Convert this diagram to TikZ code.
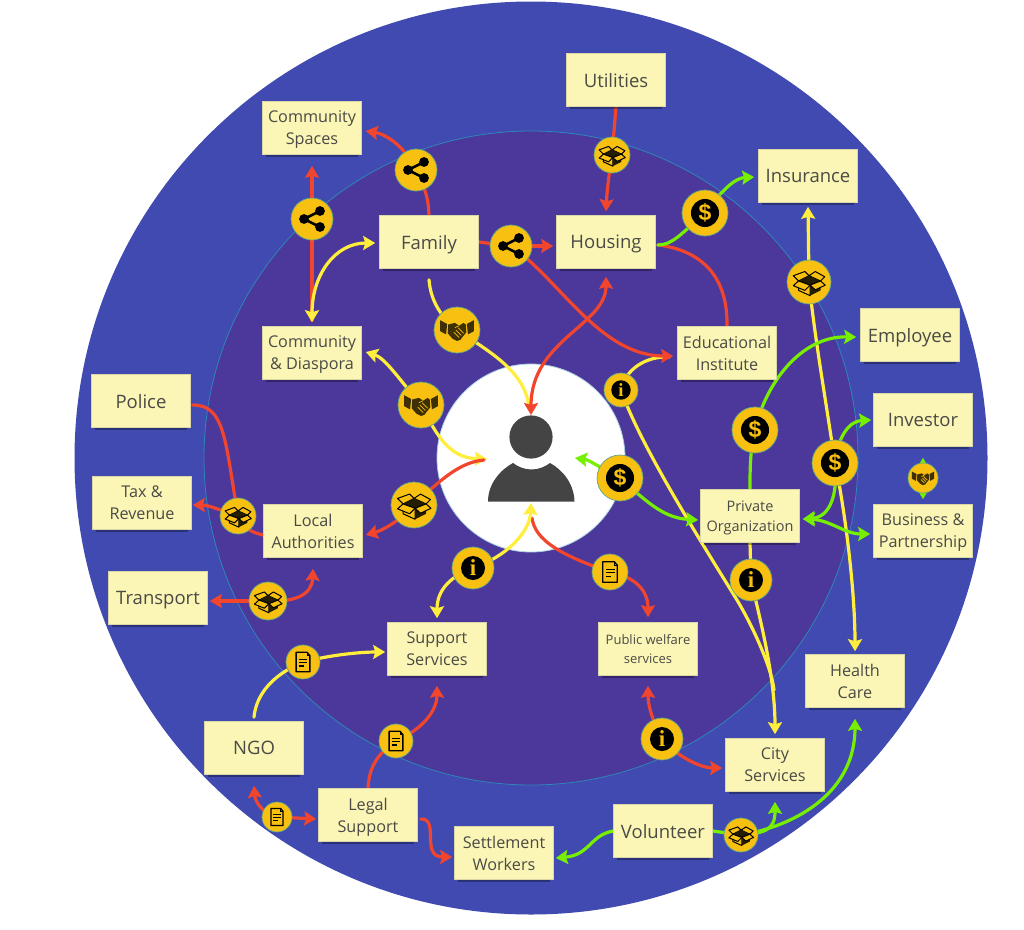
\documentclass[tikz,border=0pt]{standalone}
\usepackage{fontspec}
\setmainfont{Open Sans}
\newfontfamily\dollarfont{Liberation Sans}
\newfontfamily\infofont{Liberation Serif}
\usetikzlibrary{arrows.meta,calc,shadows}
\pgfdeclarelayer{under}
\pgfsetlayers{under,main}
\definecolor{ringout}{HTML}{404AB0}
\definecolor{ringin}{HTML}{4B389A}
\definecolor{ringedge}{HTML}{2F86B8}
\definecolor{notefill}{HTML}{FBF6B6}
\definecolor{noteedge}{HTML}{D9D6A8}
\definecolor{notetext}{HTML}{4A4A46}
\definecolor{gold}{HTML}{F8C010}
\definecolor{goldedge}{HTML}{5FA58A}
\definecolor{lred}{HTML}{F2452D}
\definecolor{lyel}{HTML}{FFEE3B}
\definecolor{lgrn}{HTML}{76F000}
\definecolor{userc}{HTML}{444444}
\tikzset{
  notebox/.style={rectangle,draw=noteedge,line width=.6pt,fill=notefill,text=notetext,
    minimum width=99pt,minimum height=53pt,inner sep=0pt,align=center,text depth=0pt,
    general shadow={shadow yshift=-4.5pt,shadow scale=.92,fill=black,opacity=.33}},
  big/.style={font=\fontsize{18.5}{23}\selectfont},
  mid/.style={font=\fontsize{16.2}{22}\selectfont},
  pri/.style={font=\fontsize{14.5}{20}\selectfont},
  sml/.style={font=\fontsize{13}{19}\selectfont},
  badgedisc/.style={circle,fill=gold,draw=goldedge,line width=.7pt,inner sep=0pt},
  conn/.style={line width=3.2pt,line cap=round},
  tip/.style={-{Stealth[length=12pt,width=14pt,inset=2pt]}},
  twotip/.style={{Stealth[length=12pt,width=14pt,inset=2pt]}-{Stealth[length=12pt,width=14pt,inset=2pt]}},
  rl/.style={conn,draw=lred},
  yl/.style={conn,draw=lyel},
  gl/.style={conn,draw=lgrn},
  pics/shareicon/.style={code={
    \draw[line width=2.6pt,black] (8,-8) -- (-8,0) -- (8,8);
    \fill[black] (8,-8) circle (4.9) (8,8) circle (4.9) (-8,0) circle (4.9);
  }},
  pics/dollaricon/.style={code={
    \fill[black] (0,0) circle (12.8);
    \node[transform shape,text=gold,inner sep=0pt,font=\dollarfont\bfseries\fontsize{21}{21}\selectfont] (d) at (0,0) {\$};
  }},
  pics/infoicon/.style={code={
    \fill[black] (0,0) circle (12);
    \node[transform shape,text=gold,inner sep=0pt,font=\infofont\bfseries\fontsize{23}{23}\selectfont] (n) at (0,0) {i};
  }},
  pics/docicon/.style={code={
    \draw[black,line width=1.3pt,fill=gold,line join=round] (-8.5,-12) -- (5,-12) -- (8.5,-8) -- (8.5,12) -- (-8.5,12) -- cycle;
    \draw[black,line width=.9pt] (5,-12) -- (5,-8) -- (8.5,-8);
    \draw[black,line width=1.2pt] (-5,-3) -- (5.5,-3) (-5,1) -- (5.5,1) (-5,5) -- (1.5,5);
  }},
  pics/boxicon/.style={code={
    \begin{scope}[black,line width=1pt,line join=round]
    \draw[fill=gold] (-10,-1) -- (-15,-6) -- (-4,-10) -- (0,-6) -- cycle;
    \draw[fill=gold] (11,-1) -- (15,-5) -- (6,-10) -- (0,-6) -- cycle;
    \fill[black!85!gold] (-10,-1) -- (0,-6) -- (11,-1) -- (1,3) -- cycle;
    \draw[fill=gold] (-10,-1) -- (1,3) -- (1,13) -- (-10,8) -- cycle;
    \fill[black!85!gold] (1,3) -- (11,-1) -- (11,8) -- (1,13) -- cycle;
    \draw[fill=gold] (-10,-1) -- (-15,3.5) -- (-4,8) -- (1,3) -- cycle;
    \draw[fill=gold] (11,-1) -- (15.5,3) -- (6,7.5) -- (1,3) -- cycle;
    \end{scope}
  }},
  pics/handicon/.style={code={
    \fill[black!75!gold] (-15.5,-9) -- (-9,-5.5) -- (-10,4) -- (-15.5,1) -- cycle;
    \fill[black!75!gold] (15.5,-9) -- (9,-5.5) -- (10,4) -- (15.5,1) -- cycle;
    \fill[black!75!gold] (-8,-5) -- (-2,-6.5) -- (2,-4) -- (6,-6.5) -- (8,-5) -- (8.5,2) -- (3,9) -- (0,10) -- (-4,8) -- (-8.5,3) -- cycle;
    \draw[gold,line width=.7pt] (-2,-2) -- (2,-4) (-3,2) -- (2,7) (-1,0) -- (4,5) (1,-2) -- (6,3);
  }}
}
\newcommand{\mkbadge}[5]{%
  \node[badgedisc,minimum size=#4*2pt] (#1) at (#2,#3) {};
  \pic (#1icon) [scale=#4/21] at (#1) {#5};}
\begin{document}
\begin{tikzpicture}[x=1pt,y=-1pt]
\useasboundingbox (0,0) rectangle (1024,929);

% notes
\node[notebox,big] (utilities) at (616,80) {Utilities};
\node[notebox,mid] (cspaces) at (312,128) {Community\\Spaces};
\node[notebox,big] (insurance) at (808,176) {Insurance};
\node[notebox,big] (family) at (429,242) {Family};
\node[notebox,big] (housing) at (606,242) {Housing};
\node[notebox,big] (employee) at (910,335) {Employee};
\node[notebox,mid] (diaspora) at (312,353) {Community\\\& Diaspora};
\node[notebox,mid] (edu) at (727,353) {Educational\\Institute};
\node[notebox,big] (police) at (141,401) {Police};
\node[notebox,big] (investor) at (923,420) {Investor};
\node[notebox,mid] (tax) at (142,503) {Tax \&\\Revenue};
\node[notebox,mid] (local) at (313,531) {Local\\Authorities};
\node[notebox,pri] (private) at (750,516) {Private\\Organization};
\node[notebox,mid] (business) at (923,531) {Business \&\\Partnership};
\node[notebox,big] (transport) at (158,598) {Transport};
\node[notebox,mid] (support) at (437,649) {Support\\Services};
\node[notebox,sml] (welfare) at (648,649) {Public welfare\\services};
\node[notebox,mid] (health) at (855,681) {Health\\Care};
\node[notebox,big] (ngo) at (254,748) {NGO};
\node[notebox,mid] (city) at (775,765) {City\\Services};
\node[notebox,mid] (legal) at (368,815) {Legal\\Support};
\node[notebox,mid] (settle) at (504,853) {Settlement\\Workers};
\node[notebox,big] (volunteer) at (663,831) {Volunteer};

% user (target of the connectors)
\coordinate (user) at (531,458);

% badges
\mkbadge{shA}{416}{170}{21}{shareicon}
\mkbadge{shB}{312}{219}{21}{shareicon}
\mkbadge{shC}{511}{246}{21}{shareicon}
\mkbadge{boxA}{612}{155}{18}{boxicon}
\mkbadge{boxB}{809}{282}{22}{boxicon}
\mkbadge{boxC}{238}{516}{18}{boxicon}
\mkbadge{boxD}{414}{505}{23}{boxicon}
\mkbadge{boxE}{268}{601}{19}{boxicon}
\mkbadge{boxF}{741}{835}{17}{boxicon}
\mkbadge{dolA}{705}{213}{23}{dollaricon}
\mkbadge{dolB}{755}{430}{23}{dollaricon}
\mkbadge{dolC}{835}{463}{23}{dollaricon}
\mkbadge{dolD}{620}{478}{23}{dollaricon}
\mkbadge{infA}{621}{390}{17}{infoicon}
\mkbadge{infB}{473}{568}{21}{infoicon}
\mkbadge{infC}{751}{580}{21}{infoicon}
\mkbadge{infD}{662}{739}{21}{infoicon}
\mkbadge{hanA}{457}{330}{23}{handicon}
\mkbadge{hanB}{421}{405}{23}{handicon}
\mkbadge{hanC}{923}{478}{15}{handicon}
\mkbadge{docA}{303}{662}{17}{docicon}
\mkbadge{docB}{396}{741}{17}{docicon}
\mkbadge{docC}{277}{817}{15}{docicon}
\mkbadge{docD}{610}{572}{18}{docicon}

\begin{pgfonlayer}{under}
\fill[white] (0,0) rectangle (1024,929);
% rings
\fill[ringout] (user) circle (456.5);
\fill[ringin,draw=ringedge,line width=.8pt] (user) circle (327);
\fill[white,draw=ringedge!40!white,line width=.8pt] (user) circle (94);
% person
\fill[userc] (531,437) circle (21.6);
\fill[userc] (488,501.5) .. controls (488,484) and (500,470) .. (513,463)
  .. controls (518,467) and (525,469.5) .. (531.5,469.5)
  .. controls (538,469.5) and (545,467) .. (550,463)
  .. controls (563,470) and (574,484) .. (574.5,501.5) -- cycle;

% red under yellow
\draw[rl,tip] ($(diaspora.north)+(0,-6)$) -- (shB.center) -- ($(cspaces.south)+(0,11)$);

% yellow
\draw[yl,twotip] ($(diaspora.north)+(0,-4)$) .. controls (312,275) and (335,243) .. ($(family.west)+(-4,1)$);
\draw[yl] ($(family.south)+(0,11)$) .. controls (431,305) and (445,320) .. (hanA.center);
\draw[yl] (hanA.center) .. controls (490,352) and (526,372) .. ($(user)+(-2,-50)$);
\draw[yl,tip] (hanB.center) .. controls (400,380) and (385,358) .. ($(diaspora.east)+(4,-1)$);
\draw[yl,tip] (hanB.center) .. controls (438,438) and (450,458) .. ($(user)+(-44,1)$);
\draw[yl] (infA.center) .. controls (625,370) and (645,356) .. ($(edu.west)+(-8,4)$);
\draw[yl] (infA.center) .. controls (640,445) and (700,540) .. (737,600) .. controls (755,630) and (772,670) .. (774,690);
\draw[yl] (private.south) -- (infC.center);
\draw[yl,tip] (infC.center) .. controls (755,600) and (775,670) .. ($(city.north)+(0,-4)$);
\draw[yl,twotip] ($(insurance.south)+(0,4)$) -- (boxB.center) .. controls (815,340) and (825,395) .. (dolC.center) .. controls (845,510) and (855,590) .. ($(health.north)+(0,-3)$);
\draw[yl,tip] (infB.center) .. controls (440,580) and (437,600) .. ($(support.north)+(0,-4)$);
\draw[yl] ($(ngo.north)+(0,-4)$) .. controls (256,695) and (272,675) .. (docA.center);
\draw[yl,tip] (docA.center) .. controls (330,655) and (360,652) .. ($(support.west)+(-2,3)$);

% red
\draw[rl] (family.north) .. controls (428,200) and (428,195) .. (shA.center);
\draw[rl,tip] (shA.center) .. controls (404,145) and (385,134) .. ($(cspaces.east)+(4,3)$);
\draw[rl] (family.east) -- (shC.center);
\draw[rl,tip] (shC.center) -- ($(housing.west)+(-3,4)$);
\draw[rl,tip] (shC.center) .. controls (560,280) and (600,356) .. ($(edu.west)+(-4,3)$);
\draw[rl,twotip] ($(housing.south)+(0,8)$) .. controls (606,325) and (531,340) .. ($(user)+(0,-43)$);
\draw[rl] (utilities.south) -- (boxA.center);
\draw[rl,tip] (boxA.center) .. controls (609,175) and (607,190) .. ($(housing.north)+(0,-4)$);
\draw[rl] ($(housing.east)+(2,3)$) .. controls (700,250) and (728,275) .. (edu.north);
\draw[rl] ($(user)+(1,60)$) .. controls (535,540) and (560,555) .. (docD.center);
\draw[rl,tip] (docD.center) .. controls (635,577) and (648,590) .. ($(welfare.north)+(0,-5)$);
\draw[rl] (boxD.center) .. controls (440,480) and (460,462) .. ($(user)+(-47,2)$);
\draw[rl,tip] (boxD.center) .. controls (395,525) and (380,531) .. ($(local.east)+(3,4)$);
\draw[rl] ($(police.east)+(2,4)$) .. controls (225,405) and (225,440) .. (boxC.center);
\draw[rl,tip] (boxC.center) .. controls (220,510) and (208,505) .. ($(tax.east)+(1,2)$);
\draw[rl] (boxC.center) .. controls (243,530) and (255,533) .. ($(local.west)+(0,4)$);
\draw[rl,tip] (boxE.center) -- ($(transport.east)+(2,3)$);
\draw[rl,tip] (boxE.center) .. controls (295,602) and (312,595) .. ($(local.south)+(0,11)$);
\draw[rl] (legal.north) .. controls (369,770) and (375,755) .. (docB.center);
\draw[rl,tip] (docB.center) .. controls (415,733) and (437,715) .. ($(support.south)+(0,10)$);
\draw[rl,tip] (docC.center) .. controls (260,812) and (255,800) .. ($(ngo.south)+(0,11)$);
\draw[rl,tip] (docC.center) -- ($(legal.west)+(-2,4)$);
\draw[rl,tip] ($(legal.east)+(3,4)$) .. controls (440,818) and (420,857) .. ($(settle.west)+(-2,4)$);
\draw[rl,tip] (infD.center) .. controls (652,720) and (648,705) .. ($(welfare.south)+(0,10)$);
\draw[rl,tip] (infD.center) .. controls (675,755) and (700,768) .. ($(city.west)+(-3,3)$);

% yellow over the red near the person
\draw[yl,tip] (infB.center) .. controls (510,555) and (530,530) .. ($(user)+(0,45)$);

% green
\draw[gl] ($(housing.east)+(2,3)$) .. controls (672,245) and (680,235) .. (dolA.center);
\draw[gl,tip] (dolA.center) .. controls (722,190) and (735,178) .. ($(insurance.west)+(-4,1)$);
\draw[gl] (private.north) .. controls (750,470) and (750,450) .. (dolB.center);
\draw[gl,tip] (dolB.center) .. controls (765,385) and (800,336) .. ($(employee.west)+(-4,2)$);
\draw[gl,tip] (dolD.center) .. controls (650,505) and (665,518) .. ($(private.west)+(-2,4)$);
\draw[gl,tip] (dolD.center) .. controls (600,468) and (590,460) .. ($(user)+(44,0)$);
\draw[gl,tip] (dolC.center) .. controls (838,435) and (850,421) .. ($(investor.west)+(-2,0)$);
\draw[gl,tip] (dolC.center) .. controls (838,495) and (830,517) .. ($(private.east)+(3,3)$);
\draw[gl,twotip] ($(private.east)+(3,3)$) .. controls (830,520) and (845,534) .. ($(business.west)+(-3,3)$);
\draw[gl,tip] (hanC.center) -- ($(business.north)+(0,-5)$);
\draw[gl,tip] (hanC.center) -- ($(investor.south)+(0,11)$);
\draw[gl,tip] (volunteer.west) .. controls (590,835) and (590,855) .. ($(settle.east)+(2,5)$);
\draw[gl] (volunteer.east) -- (boxF.center);
\draw[gl,tip] (boxF.center) .. controls (765,833) and (775,830) .. ($(city.south)+(0,10)$);
\draw[gl,tip] (boxF.center) .. controls (800,825) and (855,790) .. ($(health.south)+(0,11)$);
\end{pgfonlayer}
\end{tikzpicture}
\end{document}
